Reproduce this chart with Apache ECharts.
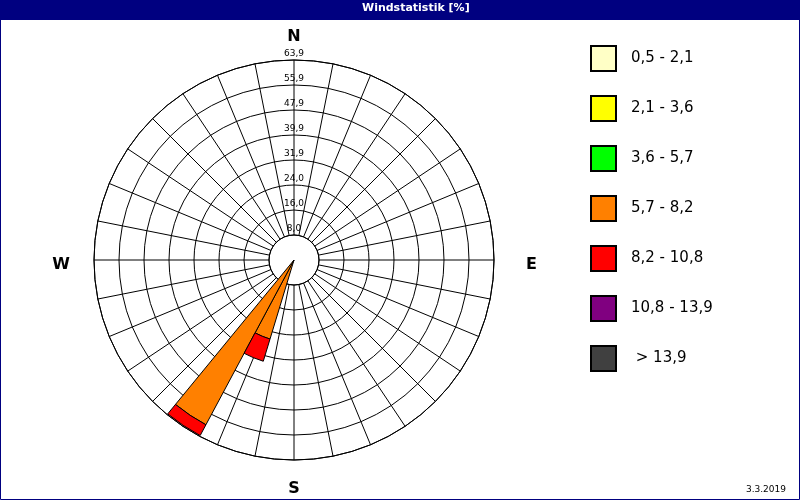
<!DOCTYPE html>
<html>
<head>
<meta charset="utf-8">
<title>Windstatistik</title>
<script src="https://cdn.jsdelivr.net/npm/echarts@6.0.0/dist/echarts.min.js"></script>
<style>
html,body{margin:0;padding:0;background:#fff;}
#rose{width:800px;height:500px;}
</style>
</head>
<body>
<div id="rose"></div>
<script type="text/javascript">
// 32 Sektoren, im Uhrzeigersinn ab Nord
var sectors = ['N','NzO','NNO','NOzN','NO','NOzO','ONO','OzN',
               'O','OzS','OSO','SOzO','SO','SOzS','SSO','SzO',
               'S','SzW','SSW','SWzS','SW','SWzW','WSW','WzS',
               'W','WzN','WNW','NWzW','NW','NWzN','NNW','NzW'];

// Windgeschwindigkeitsklassen [m/s]
var classes = ['0,5 - 2,1','2,1 - 3,6','3,6 - 5,7','5,7 - 8,2','8,2 - 10,8','10,8 - 13,9',' > 13,9'];
var colors  = ['#ffffc6','#ffff00','#00ff00','#ff8000','#ff0000','#800080','#404040'];

// Anteile je Sektor [%]
var v1 = [null,null,null,null,null,null,null,null,null,null,null,null,null,null,null,null,
          null,null,null,null,null,null,null,null,null,null,null,null,null,null,null,null];
var v2 = [null,null,null,null,null,null,null,null,null,null,null,null,null,null,null,null,
          null,null,null,null,null,null,null,null,null,null,null,null,null,null,null,null];
var v3 = [null,null,null,null,null,null,null,null,null,null,null,null,null,null,null,null,
          null,null,null,null,null,null,null,null,null,null,null,null,null,null,null,null];
var v4 = [null,null,null,null,null,null,null,null,null,null,null,null,null,null,null,null,
          null,null,26.4,59.7,null,null,null,null,null,null,null,null,null,null,null,null];
var v5 = [null,null,null,null,null,null,null,null,null,null,null,null,null,null,null,null,
          null,null,7.4,3.9,null,null,null,null,null,null,null,null,null,null,null,null];
var v6 = [null,null,null,null,null,null,null,null,null,null,null,null,null,null,null,null,
          null,null,null,null,null,null,null,null,null,null,null,null,null,null,null,null];
var v7 = [null,null,null,null,null,null,null,null,null,null,null,null,null,null,null,null,
          null,null,null,null,null,null,null,null,null,null,null,null,null,null,null,null];
var values = [v1,v2,v3,v4,v5,v6,v7];

// Ringe
var ringMax = 63.9;
var ringStep = 7.9875;
var ringLabels = ['8,0','16,0','24,0','31,9','39,9','47,9','55,9','63,9'];
var compass = {0:'{n|N}', 90:'{e|E}', 180:'{s|S}', 270:'{w|W}'};

var myChart = echarts.init(document.getElementById('rose'));

var series = [];
for (var i = 0; i < classes.length; i++) {
    series.push({
        name: classes[i],
        type: 'bar',
        coordinateSystem: 'polar',
        polarIndex: 1,
        stack: 'wind',
        barCategoryGap: '0%',
        data: values[i],
        itemStyle: { color: colors[i], borderColor: '#000', borderWidth: 1 },
        emphasis: { disabled: true },
        silent: true
    });
}

var cmp = { color: '#000', fontSize: 16, fontWeight: 'bold', fontFamily: 'DejaVu Sans' };

var option = {
    backgroundColor: '#fff',
    animation: false,
    title: [
        {
            text: 'Windstatistik [%]',
            left: 362, top: 3, padding: 0,
            textStyle: { color: '#fff', fontSize: 11, fontWeight: 'bold', fontFamily: 'DejaVu Sans' }
        },
        {
            text: '3.3.2019',
            right: 14, bottom: 6, padding: 0,
            textStyle: { color: '#000', fontSize: 9, fontWeight: 'normal', fontFamily: 'DejaVu Sans' }
        }
    ],
    graphic: [
        { type: 'rect', z: 0, shape: { x: 0, y: 0, width: 800, height: 20 }, style: { fill: '#000080' } },
        { type: 'rect', z: 0, shape: { x: 0.5, y: 0.5, width: 799, height: 499 }, style: { fill: 'none', stroke: '#000080', lineWidth: 1 } }
    ],
    legend: {
        orient: 'vertical',
        left: 590, top: 45, padding: 0,
        itemWidth: 25, itemHeight: 25, itemGap: 23,
        icon: 'rect',
        selectedMode: false,
        data: classes,
        textStyle: { color: '#000', fontSize: 15, fontFamily: 'DejaVu Sans', padding: [0, 0, 0, 10] }
    },
    polar: [
        { center: [294, 260], radius: [25, 200] },
        { center: [294, 260], radius: [0, 200] }
    ],
    angleAxis: [
        {
            polarIndex: 0,
            type: 'value', min: 0, max: 360, interval: 11.25,
            startAngle: 90, clockwise: true,
            axisLine: { show: true, lineStyle: { color: '#000', width: 1 } },
            axisTick: { show: false },
            splitLine: { show: true, lineStyle: { color: '#000', width: 1 } },
            axisLabel: {
                show: true, margin: 15,
                formatter: function (v) { return compass[v] || ''; },
                rich: {
                    n: cmp,
                    s: Object.assign({ padding: [6, 0, 0, 0] }, cmp),
                    w: Object.assign({ padding: [10, 9, 0, 0] }, cmp),
                    e: Object.assign({ padding: [10, 0, 0, 17] }, cmp)
                }
            }
        },
        {
            polarIndex: 1,
            type: 'category', data: sectors,
            startAngle: 95.625, clockwise: true,
            axisLine: { show: false }, axisTick: { show: false },
            splitLine: { show: false }, axisLabel: { show: false }
        }
    ],
    radiusAxis: [
        {
            polarIndex: 0,
            type: 'value', min: ringStep, max: ringMax, interval: ringStep,
            axisLine: { show: false }, axisTick: { show: false },
            splitLine: { show: true, lineStyle: { color: '#000', width: 1 } },
            axisLabel: {
                show: true, margin: 0, align: 'center', verticalAlign: 'bottom',
                padding: [0, 0, 2, 0],
                color: '#000', fontSize: 9, fontFamily: 'DejaVu Sans',
                formatter: function (v) { return ringLabels[Math.round(v / ringStep) - 1] || ''; }
            },
            z: 1
        },
        {
            polarIndex: 1,
            type: 'value', min: 0, max: ringMax,
            axisLine: { show: false }, axisTick: { show: false },
            splitLine: { show: false }, axisLabel: { show: false }
        }
    ],
    series: series
};
myChart.setOption(option);
</script>
</body>
</html>
